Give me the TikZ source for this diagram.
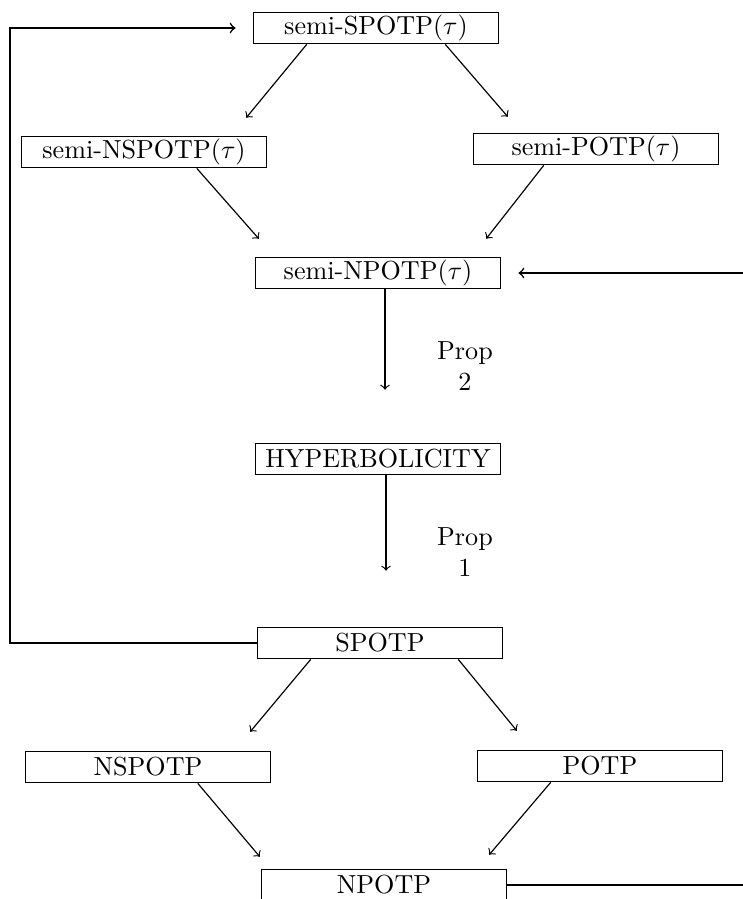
\documentclass[tikz,border=0pt]{standalone}
\usepackage{amsmath,amssymb}
\usepackage{tikz}
\usetikzlibrary{arrows,calc,positioning}

\tikzset{
  potpbox/.style={draw, line width=0.6, rectangle, inner sep=0,
    minimum width=93.8pt, minimum height=11.9pt},
  implies/.style={line width=0.45, ->},
  proplabel/.style={align=center, inner sep=0},
}

\begin{document}
\begin{tikzpicture}[x=0.383pt, y=-0.383pt, >=to]

    \useasboundingbox (0,0) rectangle (743,899);
    \def\gap{6.6pt}

    % semi boxes
    \node[potpbox] (sspotp) at (376,28) {semi-SPOTP$(\tau)$};
    \node[potpbox] (snspotp) at (144,152) {semi-NSPOTP$(\tau)$};
    \node[potpbox] (semipotp) at (596,149) {semi-POTP$(\tau)$};
    \node[potpbox] (snpotp) at (378,273) {semi-NPOTP$(\tau)$};

    % middle
    \node[potpbox] (hyper) at (378,459) {HYPERBOLICITY};
    \node[proplabel] (prop2) at (465,366) {Prop\\2};
    \node[proplabel] (prop1) at (465,552) {Prop\\1};

    % plain boxes
    \node[potpbox] (spotp) at (380,643) {SPOTP};
    \node[potpbox] (nspotp) at (148,767) {NSPOTP};
    \node[potpbox] (potp) at (600,766) {POTP};
    \node[potpbox] (npotp) at (384,885) {NPOTP};

    % semi diamond
    \draw[implies] ($(sspotp.south west)+(54,0)$) -- ($(snspotp.north east)+(-21,-18)$);
    \draw[implies] ($(sspotp.south east)+(-54,0)$) -- ($(semipotp.north west)+(35,-16)$);
    \draw[implies] ($(snspotp.south west)+(176,0)$) -- ($(snpotp.north west)+(4,-18)$);
    \draw[implies] ($(semipotp.south west)+(71,0)$) -- ($(snpotp.north east)+(-15,-18)$);

    % props
    \draw[implies] ($(snpotp.south)+(7,0)$) -- ($(hyper.north)+(7,-53)$);
    \draw[implies] ($(hyper.south)+(8,0)$) -- ($(spotp.north)+(6,-56)$);

    % plain diamond
    \draw[implies] ($(spotp.south west)+(54,0)$) -- ($(nspotp.north east)+(-21,-19)$);
    \draw[implies] ($(spotp.south east)+(-45,0)$) -- ($(potp.north west)+(40,-19)$);
    \draw[implies] ($(nspotp.south west)+(173,0)$) -- ($(npotp.north west)+(-1,-12)$);
    \draw[implies] ($(potp.south west)+(74,0)$) -- ($(npotp.north east)+(-18,-14)$);

    % feedback lines
    \coordinate (fbl) at (10,28);
    \coordinate (rgt) at (760,0);
    \draw[->, line width=0.6, shorten >=\gap] (spotp.west) -| (fbl) -- (sspotp.west);
    \draw[->, line width=0.6, shorten >=\gap] (snpotp.east -| rgt) -- (snpotp.east);
    \draw[line width=0.6] (npotp.east) -- (npotp.east -| rgt);

\end{tikzpicture}
\end{document}
